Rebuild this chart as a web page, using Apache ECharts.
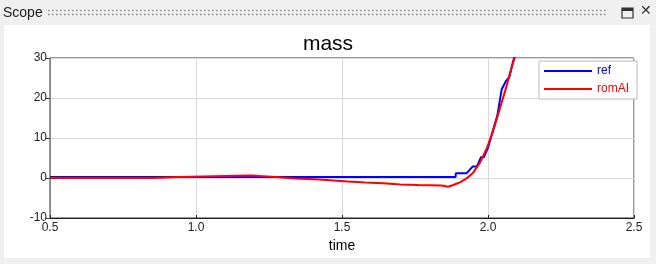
<!DOCTYPE html>
<html><head><meta charset="utf-8">
<script src="https://cdn.jsdelivr.net/npm/echarts@6/dist/echarts.min.js"></script>
<style>html,body{margin:0;padding:0;background:#f0f0f0;}#c{width:656px;height:264px;}</style>
</head><body><div id="c"></div>
<script>
const chartTitle = 'mass';
const xName = 'time';
const seriesNames = ['ref', 'romAI'];
const xTicks = [0.5, 1.0, 1.5, 2.0, 2.5];
const yTicks = [-10, 0, 10, 20, 30];
const refTime  = [0.5, 1.889, 1.890, 1.927, 1.948, 1.962, 1.976, 1.986, 2.000, 2.012, 2.032, 2.047, 2.062, 2.073, 2.085, 2.095];
const refValue = [0.25, 0.25, 1.2, 1.2, 2.9, 2.9, 5.2, 5.2, 7.6, 10.6, 15.6, 22.2, 24.3, 25.2, 28.9, 31.5];
const romTime  = [0.5, 0.854, 0.855, 0.942, 0.943, 1.187, 1.188, 1.27, 1.271, 1.339, 1.34, 1.408, 1.409, 1.47, 1.471, 1.52, 1.521, 1.579, 1.58, 1.641, 1.642, 1.699, 1.70, 1.76, 1.761, 1.841, 1.842, 1.864, 1.881, 1.904, 1.927, 1.950, 1.973, 1.995, 2.012, 2.030, 2.047, 2.064, 2.081, 2.098];
const romValue = [0.0, 0.0, 0.25, 0.25, 0.6, 0.6, 0.25, 0.25, -0.1, -0.1, -0.3, -0.3, -0.6, -0.6, -0.9, -0.9, -1.1, -1.1, -1.3, -1.3, -1.6, -1.6, -1.75, -1.75, -1.9, -1.9, -2.2, -2.2, -1.75, -1.1, -0.1, 1.4, 3.9, 7.25, 10.6, 14.75, 18.9, 23.1, 27.7, 31.5];

const pairs = (t, v) => t.map((x, i) => [x, v[i]]);
const chart = echarts.init(document.getElementById('c'), null, {renderer: 'canvas'});
const font = 'Arial, "Liberation Sans", sans-serif';
const grip = [];
for (let r = 0; r < 2; r++) {
  grip.push({type: 'line', shape: {x1: 48, y1: 10.5 + r * 4, x2: 606, y2: 10.5 + r * 4},
    style: {stroke: '#8a8a8a', lineWidth: 1.5, lineDash: [1.5, 2.5]}, silent: true});
}
chart.setOption({
  backgroundColor: '#f0f0f0',
  animation: false,
  graphic: [
    {type: 'rect', shape: {x: 4, y: 25, width: 646, height: 233}, style: {fill: '#ffffff'}, z: -10, silent: true},
    {type: 'text', left: 3, top: 6, style: {text: 'Scope', font: '14px ' + font, fill: '#1a1a1a'}},
    ...grip,
    {type: 'rect', shape: {x: 622, y: 8, width: 11, height: 10}, style: {fill: 'none', stroke: '#333', lineWidth: 1.2}},
    {type: 'rect', shape: {x: 622, y: 8, width: 11, height: 3}, style: {fill: '#333'}},
    {type: 'text', left: 640, top: 4, style: {text: '\u2715', font: '14px ' + font, fill: '#333'}}
  ],
  title: {text: chartTitle, left: 'center', top: 29,
    textStyle: {fontFamily: font, fontSize: 21, fontWeight: 'normal', color: '#000'}},
  grid: {left: 50, right: 22, top: 58, bottom: 46, show: true, borderColor: '#333', borderWidth: 1},
  legend: {
    right: 19, top: 61, orient: 'vertical', backgroundColor: '#fff', borderColor: '#bbb', borderWidth: 1,
    padding: [4, 8, 4, 5], itemGap: 6, itemWidth: 48, itemHeight: 10, icon: 'path://M0,4H48V6.2H0Z',
    textStyle: {fontFamily: font, fontSize: 12},
    data: [
      {name: seriesNames[0], textStyle: {color: '#0000ff'}},
      {name: seriesNames[1], textStyle: {color: '#ff0000'}}
    ]
  },
  xAxis: {
    type: 'value', min: xTicks[0], max: xTicks[xTicks.length - 1], interval: 0.5,
    name: xName, nameLocation: 'middle', nameGap: 18,
    nameTextStyle: {fontFamily: font, fontSize: 14, color: '#000'},
    axisLine: {onZero: false, lineStyle: {color: '#222'}},
    axisTick: {show: true, inside: true, length: 3, lineStyle: {color: '#222'}},
    axisLabel: {fontFamily: font, fontSize: 12, color: '#222', margin: 4,
      formatter: v => v.toFixed(1)},
    splitLine: {show: true, lineStyle: {color: '#d8d8d8'}}
  },
  yAxis: {
    type: 'value', min: yTicks[0], max: yTicks[yTicks.length - 1], interval: 10,
    axisLine: {show: true, onZero: false, lineStyle: {color: '#888'}},
    axisTick: {show: true, length: 4, lineStyle: {color: '#444'}},
    axisLabel: {fontFamily: font, fontSize: 12, color: '#222', margin: 3},
    splitLine: {show: true, lineStyle: {color: '#d8d8d8'}}
  },
  series: [
    {name: seriesNames[0], type: 'line', data: pairs(refTime, refValue), showSymbol: false, symbol: 'none',
      lineStyle: {color: '#0000ff', width: 2}, itemStyle: {color: '#0000ff'}, clip: true, z: 3},
    {name: seriesNames[1], type: 'line', data: pairs(romTime, romValue), showSymbol: false, symbol: 'none',
      lineStyle: {color: '#ff0000', width: 2}, itemStyle: {color: '#ff0000'}, clip: true, z: 4}
  ]
});
</script></body></html>
